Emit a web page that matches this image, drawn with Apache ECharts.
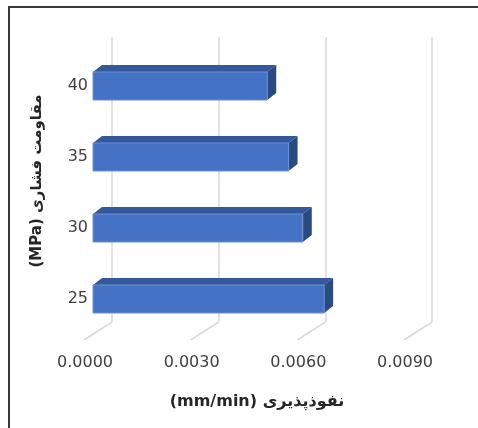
<!DOCTYPE html>
<html>
<head>
<meta charset="utf-8">
<script src="https://cdn.jsdelivr.net/npm/echarts@6/dist/echarts.min.js"></script>
<style>
  html, body { margin: 0; padding: 0; background: #fff; }
  #chart { width: 478px; height: 428px; direction: rtl; }
</style>
</head>
<body>
<div id="chart"></div>
<script>
// Compressive strength classes and their measured permeability
const categories = ['25', '30', '35', '40'];
const permeability = [0.0065, 0.0059, 0.0055, 0.0049];
const xTicks = [0, 0.003, 0.006, 0.009];
const xMin = 0, xMax = 0.009, xInterval = 0.003;
const xTitle = 'نفوذپذیری (mm/min)';
const yTitle = 'مقاومت فشاری (MPa)';

const FONT = 'DejaVu Sans';
const barDepth = { dx: 9, dy: -7 };     // extrusion of each bar
const floorSlope = { dx: -28, dy: 18 }; // back wall to front edge of the floor
const barThickness = 28;

const chart = echarts.init(document.getElementById('chart'), null, { renderer: 'canvas' });

const valueAxisBase = { type: 'value', min: xMin, max: xMax, interval: xInterval };

chart.setOption({
  animation: false,
  backgroundColor: '#ffffff',
  grid: [
    { left: 93, top: 50.5, width: 320, height: 284 },   // bar plane
    { left: 112, top: 37, width: 320, height: 285 },    // back wall
    { left: 85, top: 100, width: 320, height: 240 }     // front edge of floor
  ],
  xAxis: [
    Object.assign({ gridIndex: 0, show: false }, valueAxisBase),
    Object.assign({ gridIndex: 1, axisLine: { show: false }, axisTick: { show: false },
      axisLabel: { show: false },
      splitLine: { show: true, lineStyle: { color: '#d9d9d9', width: 1.5 } } }, valueAxisBase),
    Object.assign({ gridIndex: 2, axisLine: { show: false }, axisTick: { show: false },
      splitLine: { show: false },
      axisLabel: { margin: 15, color: '#404040', fontFamily: FONT, fontSize: 16,
        formatter: v => v.toFixed(4) } }, valueAxisBase)
  ],
  yAxis: [
    { gridIndex: 0, type: 'category', data: categories,
      axisLine: { show: false }, axisTick: { show: false }, splitLine: { show: false },
      axisLabel: { margin: 5, color: '#404040', fontFamily: FONT, fontSize: 16 } },
    { gridIndex: 1, type: 'value', min: 0, max: 1, show: false },
    { gridIndex: 2, type: 'value', min: 0, max: 1, show: false }
  ],
  series: [
    {
      // floor lines running forward from the foot of each wall gridline
      type: 'custom',
      xAxisIndex: 1, yAxisIndex: 1,
      data: xTicks.map(v => [v, 0]),
      silent: true,
      renderItem: (params, api) => {
        const p = api.coord([api.value(0), 0]);
        return {
          type: 'line',
          shape: { x1: p[0], y1: p[1], x2: p[0] + floorSlope.dx, y2: p[1] + floorSlope.dy },
          style: { stroke: '#d9d9d9', lineWidth: 1.5 }
        };
      },
      z: 1
    },
    {
      // extruded horizontal bars
      type: 'custom',
      xAxisIndex: 0, yAxisIndex: 0,
      data: permeability.map((v, i) => [v, i]),
      encode: { x: 0, y: 1 },
      renderItem: (params, api) => {
        const v = api.value(0), c = api.value(1);
        const p0 = api.coord([0, c]);
        const p1 = api.coord([v, c]);
        const x0 = p0[0], x1 = p1[0];
        const yT = p0[1] - barThickness / 2, yB = p0[1] + barThickness / 2;
        const dx = barDepth.dx, dy = barDepth.dy;
        return {
          type: 'group',
          children: [
            { type: 'polygon',
              shape: { points: [[x0, yT], [x1, yT], [x1 + dx, yT + dy], [x0 + dx, yT + dy]] },
              style: { fill: '#34589c' } },
            { type: 'polygon',
              shape: { points: [[x1, yT], [x1 + dx, yT + dy], [x1 + dx, yB + dy], [x1, yB]] },
              style: { fill: '#2b4a82' } },
            { type: 'rect',
              shape: { x: x0, y: yT, width: x1 - x0, height: barThickness },
              style: { fill: '#4472c4', stroke: '#6f8fd3', lineWidth: 1 } }
          ]
        };
      },
      z: 3
    }
  ],
  graphic: [
    { type: 'polyline', silent: true,
      shape: { points: [[9, 440], [9, 7], [490, 7]] },
      style: { stroke: '#3a3a3a', lineWidth: 2, fill: null } },
    { type: 'text', x: 257, y: 402, silent: true,
      style: { text: xTitle, font: 'bold 16px "' + FONT + '"', fill: '#262626',
        align: 'center', verticalAlign: 'middle' } },
    { type: 'text', x: 37, y: 181, rotation: Math.PI / 2, silent: true,
      style: { text: yTitle, font: 'bold 15px "' + FONT + '"', fill: '#262626',
        align: 'center', verticalAlign: 'middle' } }
  ]
});
</script>
</body>
</html>
